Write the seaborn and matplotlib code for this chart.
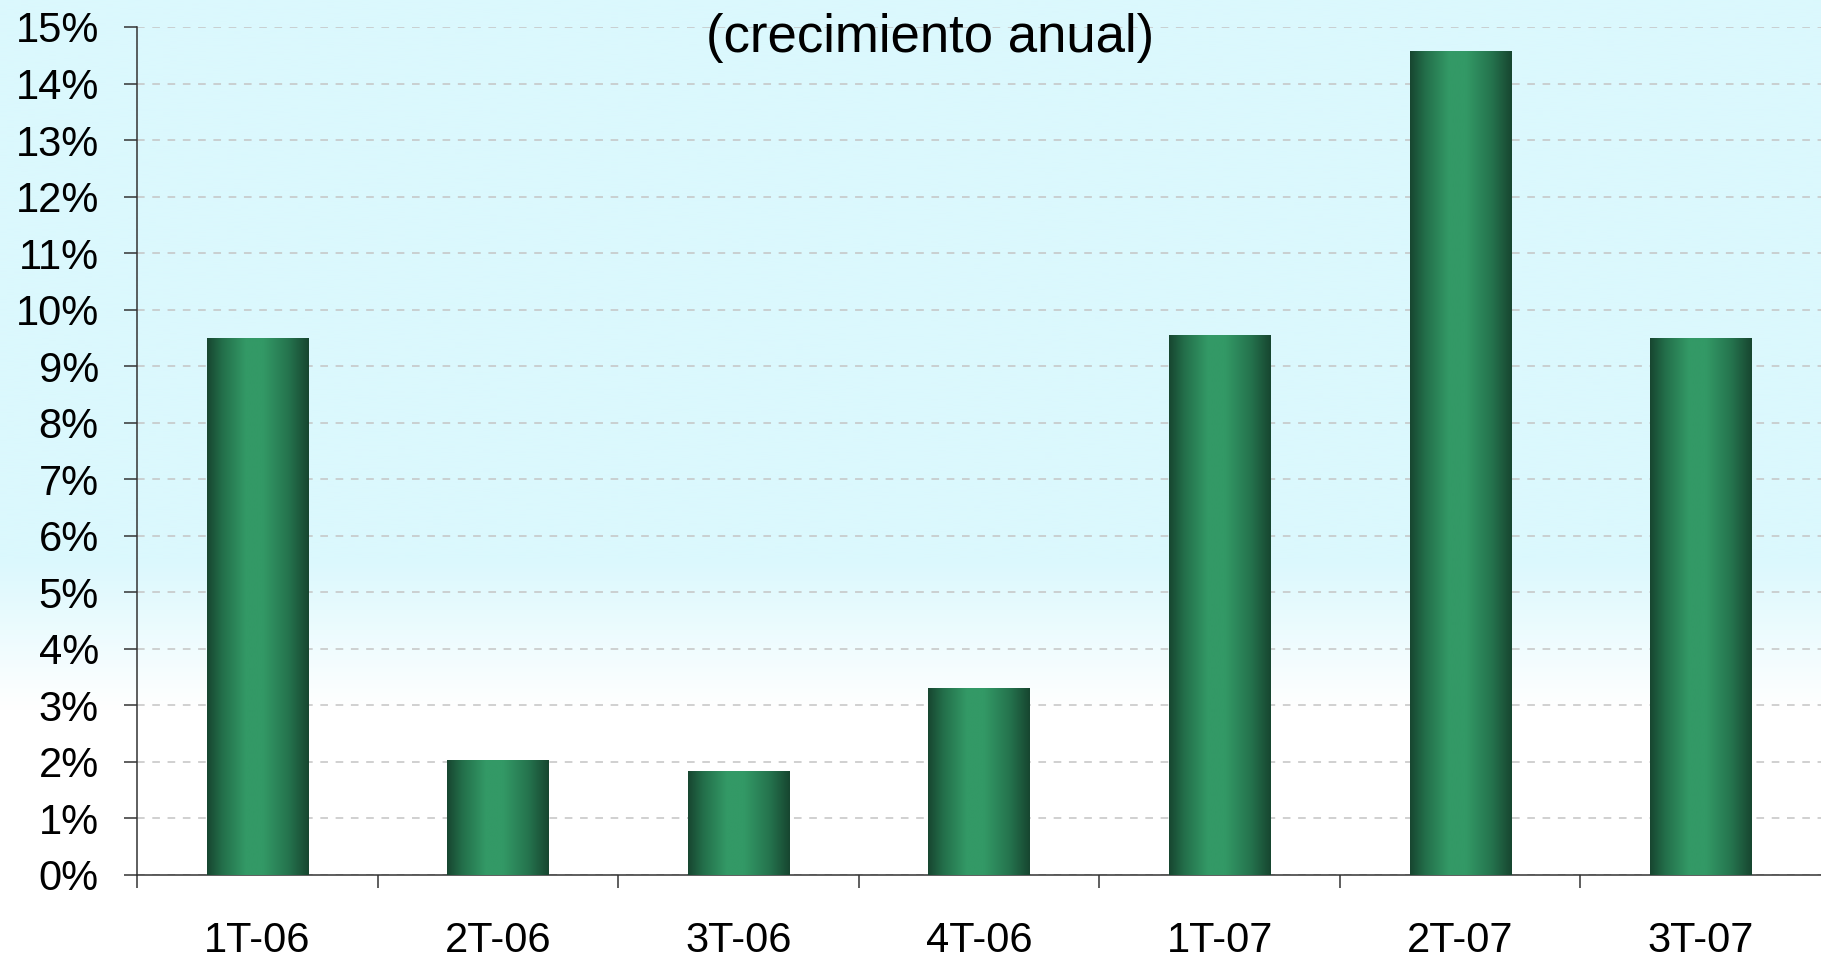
import numpy as np
import matplotlib
matplotlib.use("Agg")
import matplotlib.pyplot as plt
import seaborn as sns
from matplotlib.colors import LinearSegmentedColormap
from matplotlib.ticker import FixedLocator, FuncFormatter

categories = ["1T-06", "2T-06", "3T-06", "4T-06", "1T-07", "2T-07", "3T-07"]
values = [9.5, 2.03, 1.84, 3.31, 9.55, 14.58, 9.5]
yticks = list(range(0, 16))
title = "(crecimiento anual)"

sns.set_theme(style="white")
plt.rcParams["font.family"] = ["Liberation Sans", "DejaVu Sans"]
plt.rcParams["lines.scale_dashes"] = False

W, H = 1821, 958
fig = plt.figure(figsize=(W / 100, H / 100), dpi=100)

# background gradient (cyan to white near bottom)
bg = fig.add_axes([0, 0, 1, 1], zorder=-10)
bg.set_axis_off()
ny = 400
rows = np.linspace(0, H, ny)
c_top = np.array([0xdb, 0xf8, 0xfd]) / 255
c_white = np.array([1.0, 1.0, 1.0])
t = np.clip((rows - 560) / (710 - 560), 0, 1)[:, None]
img = c_top * (1 - t) + c_white * t
bg.imshow(img[:, None, :], aspect="auto", extent=[0, 1, 1, 0], interpolation="bilinear")
bg.set_xlim(0, 1)
bg.set_ylim(1, 0)

ax = fig.add_axes([137 / W, (H - 875) / H, 1 - 137 / W, (875 - 27) / H])
ax.set_facecolor("none")

sns.barplot(x=categories, y=values, width=0.42, color="#2e8b5e", ax=ax,
            linewidth=0, zorder=3)

# cylinder-like horizontal gradient inside each bar
cmap = LinearSegmentedColormap.from_list(
    "bar", [(0.0, "#174630"), (0.15, "#236f4a"), (0.38, "#339966"),
            (0.55, "#339966"), (0.8, "#25744e"), (1.0, "#174630")])
grad = np.linspace(0, 1, 256)[None, :]
for p in ax.patches:
    x0, y0 = p.get_x(), p.get_y()
    w, h = p.get_width(), p.get_height()
    im = ax.imshow(grad, cmap=cmap, aspect="auto",
                   extent=[x0, x0 + w, y0, y0 + h], zorder=4,
                   interpolation="bilinear")
    im.set_clip_path(p)

ax.set_xlim(-0.5, len(categories) - 0.5)
ax.set_ylim(0, 15)
ax.set_xlabel("")
ax.set_ylabel("")

ax.yaxis.set_major_locator(FixedLocator(yticks))
ax.yaxis.set_major_formatter(FuncFormatter(lambda v, pos: f"{int(round(v))}%"))
ax.grid(axis="y", color="#c4c4c4", linewidth=1.1, linestyle=(0, (5.5, 5.5)), zorder=0)
ax.set_axisbelow(True)

ax.tick_params(axis="y", which="major", direction="out", length=9.5, width=1.1,
               color="#333333", pad=18, labelsize=30, labelcolor="black", left=True)
ax.set_xticks(range(len(categories)))
ax.set_xticklabels(categories)
ax.xaxis.set_minor_locator(FixedLocator([i - 0.5 for i in range(len(categories))]))
ax.tick_params(axis="x", which="major", length=0, pad=33, labelsize=30, labelcolor="black")
ax.tick_params(axis="x", which="minor", direction="out", length=9.5, width=1.1,
               color="#333333", bottom=True)

for s in ["top", "right"]:
    ax.spines[s].set_visible(False)
for s in ["left", "bottom"]:
    ax.spines[s].set_color("#333333")
    ax.spines[s].set_linewidth(1.1)

fig.text(930 / W, 1 - 38 / H, title, ha="center", va="center", fontsize=38, color="black")

fig.savefig("out.png", dpi=100)
